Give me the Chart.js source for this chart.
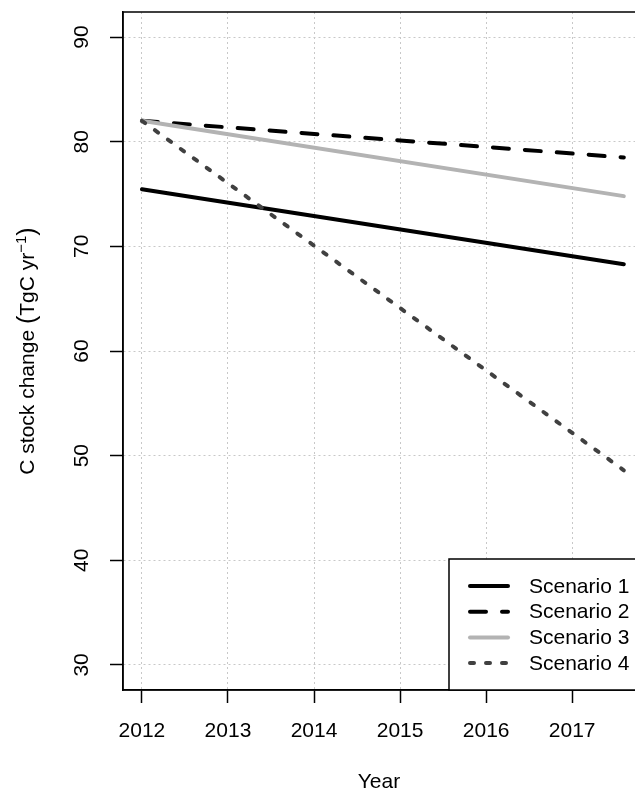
<!DOCTYPE html>
<html>
<head>
<meta charset="utf-8">
<script src="https://cdn.jsdelivr.net/npm/chart.js@4.4.1/dist/chart.umd.min.js"></script>
<style>
  body { margin: 0; background: #fff; }
</style>
</head>
<body>
<canvas id="chart" width="635" height="792"></canvas>
<script>
// values: each scenario is a straight line, start and end point
var years = [2012, 2017.6];
var scenario1 = [75.45, 68.3];
var scenario2 = [82.0, 78.5];
var scenario3 = [82.0, 74.8];
var scenario4 = [82.0, 48.6];
var labels = ['Scenario 1', 'Scenario 2', 'Scenario 3', 'Scenario 4'];
var xTicks = [2012, 2013, 2014, 2015, 2016, 2017];
var yTicks = [30, 40, 50, 60, 70, 80, 90];

var FONT = "'Liberation Sans', Arial, Helvetica, sans-serif";

function toPoints(vals) {
  return vals.map(function(v, i) { return {x: years[i], y: v}; });
}

function makeSet(i, vals, color, dash) {
  return {
    label: labels[i],
    data: toPoints(vals),
    borderColor: color,
    borderWidth: 4,
    borderDash: dash,
    borderCapStyle: 'round',
    borderJoinStyle: 'round',
    pointRadius: 0,
    fill: false,
    tension: 0,
    order: 3 - i   // draw like R: scenario 4 last (on top)
  };
}

// box, rotated y labels, y title with superscript and the legend, R style
var rPlot = {
  id: 'rPlot',
  afterDraw: function(chart) {
    var ctx = chart.ctx, a = chart.chartArea, ys = chart.scales.y;
    ctx.save();

    ctx.strokeStyle = '#000';
    ctx.lineWidth = 1.5;
    ctx.strokeRect(a.left, a.top, a.right - a.left + 3, a.bottom - a.top);

    // y tick labels (parallel to axis)
    ctx.font = '21px ' + FONT;
    ctx.fillStyle = '#000';
    ctx.textAlign = 'center';
    ctx.textBaseline = 'middle';
    ys.ticks.forEach(function(t) {
      var y = ys.getPixelForValue(t.value);
      ctx.save();
      ctx.translate(82, y);
      ctx.rotate(-Math.PI / 2);
      ctx.fillText(String(t.value), 0, 0);
      ctx.restore();
    });

    // y title: C stock change (TgC yr^-1)
    var parts = [
      {t: 'C stock change ', f: '21px ' + FONT, dy: 0},
      {t: '(', f: '25px ' + FONT, dy: 1},
      {t: 'TgC yr', f: '21px ' + FONT, dy: 0},
      {t: '\u22121', f: '15px ' + FONT, dy: -8},
      {t: ')', f: '25px ' + FONT, dy: 1}
    ];
    var total = 0;
    parts.forEach(function(p) { ctx.font = p.f; p.w = ctx.measureText(p.t).width; total += p.w; });
    ctx.save();
    ctx.translate(33.5, (a.top + a.bottom) / 2);
    ctx.rotate(-Math.PI / 2);
    ctx.textAlign = 'left';
    ctx.textBaseline = 'alphabetic';
    var px = -total / 2;
    parts.forEach(function(p) {
      ctx.font = p.f;
      ctx.fillText(p.t, px, p.dy);
      px += p.w;
    });
    ctx.restore();

    // legend, bottom right
    var bx = a.right - 186, by = a.bottom - 131;
    ctx.fillStyle = '#fff';
    ctx.fillRect(bx, by, 200, 131);
    ctx.strokeStyle = '#000';
    ctx.lineWidth = 1.5;
    ctx.strokeRect(bx, by, 200, 131);
    ctx.font = '21px ' + FONT;
    ctx.textAlign = 'left';
    ctx.textBaseline = 'middle';
    chart.data.datasets.forEach(function(ds, i) {
      var ry = by + 27 + i * 25.7;
      ctx.save();
      ctx.strokeStyle = ds.borderColor;
      ctx.lineWidth = ds.borderWidth;
      ctx.lineCap = 'round';
      ctx.setLineDash(ds.borderDash);
      ctx.beginPath();
      ctx.moveTo(bx + 21, ry);
      ctx.lineTo(bx + 59, ry);
      ctx.stroke();
      ctx.restore();
      ctx.fillStyle = '#000';
      ctx.fillText(ds.label, bx + 80, ry + 1);
    });

    ctx.restore();
  }
};

var gridOpts = {
  color: '#c8c8c8',
  lineWidth: 1,
  tickColor: '#000',
  tickLength: 13,
  tickWidth: 1.5,
  tickBorderDash: []
};
var borderOpts = { display: true, color: '#000', width: 1.5, dash: [2, 3] };

new Chart(document.getElementById('chart'), {
  type: 'line',
  data: {
    datasets: [
      makeSet(0, scenario1, '#000000', []),
      makeSet(1, scenario2, '#000000', [16, 16]),
      makeSet(2, scenario3, '#b3b3b3', []),
      makeSet(3, scenario4, '#404040', [4, 12])
    ]
  },
  options: {
    responsive: false,
    animation: false,
    layout: { padding: { top: 12, left: 0, right: 0, bottom: 0 } },
    plugins: { legend: { display: false }, tooltip: { enabled: false } },
    scales: {
      x: {
        type: 'linear',
        min: 2011.78,
        max: 2017.73,
        afterBuildTicks: function(s) { s.ticks = xTicks.map(function(v) { return {value: v}; }); },
        afterFit: function(s) { s.height = 102; },
        ticks: {
          callback: function(v) { return String(v); },
          font: { family: FONT, size: 21 },
          color: '#000',
          padding: 15.4,
          maxRotation: 0,
          autoSkip: false
        },
        grid: gridOpts,
        border: borderOpts,
        title: {
          display: true,
          text: 'Year',
          font: { family: FONT, size: 21 },
          color: '#000',
          padding: { top: 0, bottom: -3 }
        }
      },
      y: {
        type: 'linear',
        min: 27.6,
        max: 92.4,
        afterBuildTicks: function(s) { s.ticks = yTicks.map(function(v) { return {value: v}; }); },
        afterFit: function(s) { s.width = 123; },
        ticks: { display: false },
        grid: gridOpts,
        border: borderOpts
      }
    }
  },
  plugins: [rPlot]
});
</script>
</body>
</html>
